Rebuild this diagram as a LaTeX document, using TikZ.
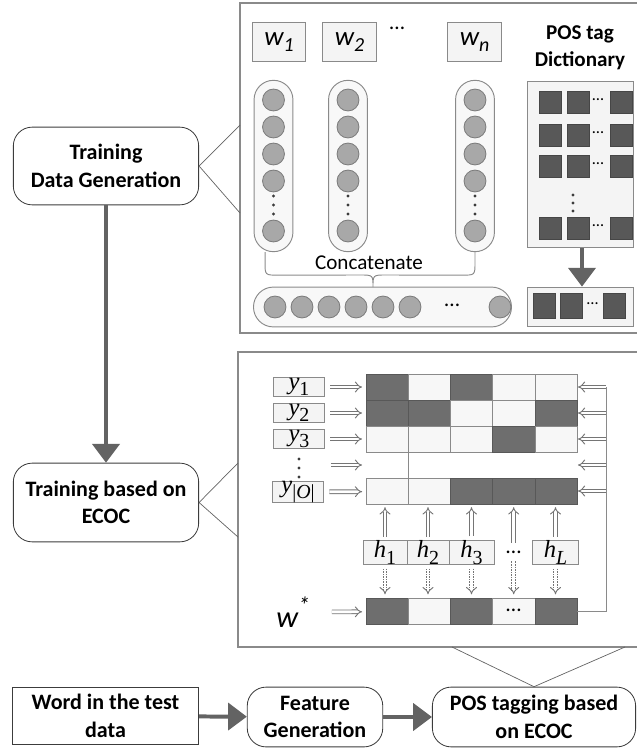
\documentclass[tikz,border=0pt]{standalone}
\usepackage{fontspec}
\setmainfont{Carlito}
\newfontfamily\serifit{Liberation Serif}
\usetikzlibrary{arrows.meta,calc,positioning}
\definecolor{frame}{HTML}{8A8A8A}
\definecolor{ink}{HTML}{3C3C3C}
\definecolor{slate}{HTML}{6E6E6E}
\definecolor{coal}{HTML}{585858}
\definecolor{pale}{HTML}{F4F4F4}
\definecolor{bead}{HTML}{A8A8A8}
\definecolor{shaft}{HTML}{636363}
\newdimen\pxu \pxu=0.8504pt
\newcommand\lowidx[1]{\textup{\raisebox{-0.25em}{\fontsize{17}{17}\selectfont#1}}}
\newcommand\wordidx[1]{\raisebox{-0.22em}{\fontsize{17}{17}\selectfont#1}}
\tikzset{
  every node/.style={font=\fontsize{18.5}{23}\selectfont},
  panel/.style={draw=frame,line width=1.3pt},
  stage/.style={rounded corners=16pt,draw=ink,line width=0.7pt,fill=white,align=center,
    inner sep=0pt,font=\fontsize{18.8}{23.5}\selectfont\bfseries},
  flow/.style={draw=shaft,line width=3.4pt,-{Triangle[length=16pt,width=23pt]}},
  callout/.style={draw=ink!80,line width=0.6pt},
  wbox/.style={draw=frame,fill=pale,line width=0.8pt,minimum width=54\pxu,minimum height=40\pxu,
    inner sep=0pt,font=\fontsize{23}{23}\selectfont\itshape},
  pill/.style={draw=frame,fill=pale!60,line width=0.8pt,inner sep=0pt},
  bead/.style={circle,draw=frame!90!black,fill=bead,line width=0.7pt,minimum size=22\pxu,inner sep=0pt},
  tagsq/.style={draw=coal!80!black,fill=coal,line width=0.4pt,minimum width=22\pxu,minimum height=22\pxu,inner sep=0pt},
  tray/.style={draw=frame,fill=pale,line width=0.8pt,inner sep=0pt},
  lbl/.style={draw=frame,fill=pale,line width=0.7pt,minimum height=19\pxu,inner sep=0pt,
    font=\serifit\itshape\fontsize{21}{21}\selectfont},
  row/.style={minimum width=211\pxu,minimum height=26\pxu,inner sep=0pt},
  dk/.style={draw=slate!80!black,fill=slate,line width=0.5pt},
  lt/.style={draw=frame,fill=pale!70,line width=0.5pt},
  hollow/.style={draw=frame!85!black,double=white,double distance=2.4pt,line width=0.8pt,-{Implies}},
  hollowdot/.style={hollow,dash pattern=on 1.3pt off 0.9pt},
  thin/.style={draw=frame,line width=0.8pt},
}
% one row of the code matrix, dk = dark cell, lt = light cell
\newcommand\codeword[2]{%
  \foreach \f [count=\i from 0] in {#2}
    \draw[\f] ($(#1.north west)+(42.2*\i,0)$) rectangle ++(42.2,26);}

\begin{document}
\begin{tikzpicture}[x=0.03cm,y=-0.03cm]
  \useasboundingbox (0,0) rectangle (636,750);

  % stages on the left and at the bottom
  \node[stage,minimum width=186\pxu,minimum height=78\pxu] (gen) at (106,166) {Training\\Data Generation};
  \node[stage,minimum width=186\pxu,minimum height=79\pxu] (ecoc) at (106,502.5) {Training based on\\ECOC};
  \node[stage,sharp corners,minimum width=187\pxu,minimum height=58\pxu] (word) at (105.5,716) {Word in the test\\data};
  \node[stage,minimum width=136\pxu,minimum height=60\pxu] (feat) at (315,717) {Feature\\Generation};
  \node[stage,minimum width=204\pxu,minimum height=60\pxu] (tag) at (534,717) {POS tagging based\\on ECOC};
  \draw[flow] (gen) -- (ecoc);
  \draw[flow] (word) -- (feat);
  \draw[flow] (feat) -- (tag);

  % zoom panels
  \draw[panel] (660,3) -- (240,3) -- (240,333) -- (660,333);
  \draw[panel] (660,352) -- (238,352) -- (238,647) -- (660,647);
  \coordinate (g1) at (240,125);
  \coordinate (g2) at (240,213);
  \coordinate (e1) at (238,463);
  \coordinate (e2) at (238,537);
  \coordinate (m1) at (452,647);
  \coordinate (m2) at (625,647);
  \draw[callout] (g1) -- (gen.east) -- (g2);
  \draw[callout] (e1) -- (ecoc.east) -- (e2);
  \draw[callout] (m1) -- (tag.north) -- (m2);

  % words and their feature columns
  \node[wbox] (w1) at (279,42) {w\wordidx{1}};
  \node[wbox] (w2) at (349.5,42) {w\wordidx{2}};
  \node[wbox] (wn) at (474.5,42) {w\wordidx{n}};
  \node (wdots) at (397,28) {…};
  \foreach \cx/\nm in {273.5/a,348/b,475/n}{
    \node[pill,rounded corners=16.5pt,minimum width=39\pxu,minimum height=172\pxu] (col\nm) at (\cx,166) {};
    \foreach \cy in {100,127,154,181,231}
      \node[bead] (b\nm\cy) at (\cx,\cy) {};
    \foreach \cy in {196,205,214}
      \fill[ink] (\cx,\cy) circle (1.3pt);
  }

  % concatenated vector
  \node[pill,rounded corners=17pt,minimum width=259\pxu,minimum height=40\pxu] (seq) at (382.5,307) {};
  \foreach \cx in {275,302,329,356,383,410,500}
    \node[bead] (s\cx) at (\cx,307) {};
  \node (sdots) at (452,305) {…};
  \coordinate (tip) at (373,287);
  \draw[thin] ([xshift=-8.5\pxu]cola.south) -- ++(0,10) .. controls +(0,13) .. ++(13,13)
    -- ($(tip)+(-13,-12)$) .. controls ($(tip)+(0,-12)$) .. (tip)
    .. controls ($(tip)+(0,-12)$) .. ($(tip)+(13,-12)$)
    -- ($(coln.south)+(-13,23)$) .. controls ($(coln.south)+(0,23)$) .. ($(coln.south)+(0,10)$) -- (coln.south);
  \node[font=\fontsize{18}{20}\selectfont] (cat) at (369,263) {Concatenate};

  % tag dictionary
  \node[font=\fontsize{18}{23}\selectfont\bfseries,align=center] (dictname) at (580,48) {POS tag\\Dictionary};
  \node[tray,minimum width=107\pxu,minimum height=167\pxu] (dict) at (580.5,164.5) {};
  \foreach \cy in {102,135,166,228}{
    \foreach \cx in {550,578,621}
      \node[tagsq] (t\cx\cy) at (\cx,\cy) {};
    \node[font=\fontsize{14}{14}\selectfont] (td\cy) at (598,\cy-2) {…};
  }
  \foreach \cy in {195,203,211}
    \fill[ink] (573,\cy) circle (1.3pt);
  \node[tray,minimum width=107\pxu,minimum height=40\pxu] (pick) at (580.5,307) {};
  \foreach \cx in {544,571,614}
    \node[tagsq,minimum height=25\pxu] (p\cx) at (\cx,306) {};
  \node[font=\fontsize{14}{14}\selectfont] (pdots) at (592.5,304) {…};
  \draw[flow] (dict.south -| 582,0) -- (pick.north -| 582,0);

  % class code words
  \node[lbl,minimum width=52\pxu] (y1) at (299,387) {y\lowidx{1}};
  \node[lbl,minimum width=52\pxu] (y2) at (299,413) {y\lowidx{2}};
  \node[lbl,minimum width=52\pxu] (y3) at (299,439) {y\lowidx{3}};
  \node[lbl,minimum width=52\pxu] (yO) at (298,492) {y\lowidx{|\textit{O}|}};
  \foreach \cy in {459,468,477}
    \fill[ink] (299,\cy) circle (1.3pt);
  \coordinate (ydots) at (299,465);
  \node[row] (r1) at (471.5,387) {};
  \node[row] (r2) at (471.5,413) {};
  \node[row] (r3) at (471.5,439) {};
  \node[row] (rd) at (471.5,465) {};
  \node[row] (rO) at (471.5,491) {};
  \node[row] (ws) at (471.5,611.5) {};
  \codeword{r1}{dk,lt,dk,lt,lt}
  \codeword{r2}{dk,dk,lt,lt,dk}
  \codeword{r3}{lt,lt,lt,dk,lt}
  \codeword{rO}{lt,lt,dk,dk,dk}
  \codeword{ws}{dk,lt,dk,lt,dk}
  \draw[thin] ($(r3.south west)+(42.2,0)$) -- ($(rO.north west)+(42.2,0)$);
  \node (wsdots) at (513.7,610) {…};
  \foreach \r in {1,2,3,O}
    \draw[hollow,shorten <=5\pxu,shorten >=4\pxu] (y\r) -- (r\r);
  \draw[hollow,shorten <=32\pxu,shorten >=4\pxu] (ydots) -- (rd.west);

  % binary learners
  \node[lbl,minimum width=44\pxu,minimum height=21\pxu] (h1) at (385,552.5) {h\lowidx{1}};
  \node[lbl,minimum width=42\pxu,minimum height=21\pxu] (h2) at (428,552.5) {h\lowidx{2}};
  \node[lbl,minimum width=45\pxu,minimum height=21\pxu] (h3) at (471.5,552.5) {h\lowidx{3}};
  \node[minimum width=30\pxu] (hd) at (513.7,552) {…};
  \node[lbl,minimum width=46\pxu,minimum height=21\pxu] (hL) at (555.5,552.5) {h\lowidx{\textit{L}}};
  \foreach \h in {h1,h2,h3,hd,hL}{
    \draw[hollow,shorten <=4\pxu,shorten >=3\pxu] (\h.north) -- (\h.north |- rO.south);
    \draw[hollowdot,shorten <=4\pxu,shorten >=4\pxu] (\h.south) -- (\h.south |- ws.north);
  }

  % decoded word and feedback to the code words
  \node[font=\fontsize{26}{26}\selectfont\itshape] (wstar) at (293,612) {w\raisebox{0.45em}{\fontsize{20}{20}\selectfont *}};
  \draw[hollow,shorten <=18\pxu,shorten >=4\pxu] (wstar) -- (ws);
  \coordinate (back) at (606,611.5);
  \draw[thin] (ws.east) -- (back) -- (back |- r1.east);
  \foreach \r in {1,2,3,d,O}
    \draw[hollow,shorten >=1\pxu] (back |- r\r.east) -- (r\r.east);
\end{tikzpicture}
\end{document}
